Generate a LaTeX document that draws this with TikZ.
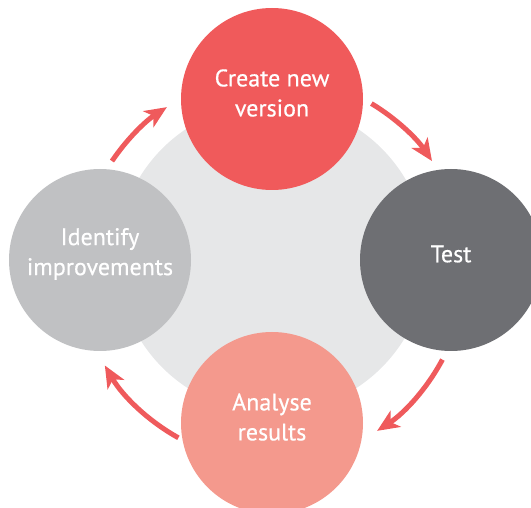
\documentclass[tikz,border=0pt]{standalone}
\usepackage{fontspec}
\setmainfont[FakeBold=0.5]{PT Sans}
\usetikzlibrary{arrows.meta,calc}
\definecolor{createred}{HTML}{F05A5B}
\definecolor{testgrey}{HTML}{6E6F73}
\definecolor{analysepink}{HTML}{F4998D}
\definecolor{identifygrey}{HTML}{C0C1C3}
\definecolor{hubgrey}{HTML}{E6E7E8}
\definecolor{arrowred}{HTML}{EF5A5C}
\tikzset{
  stage/.style={circle,minimum size=182pt,inner sep=0pt},
  words/.style={text=white,align=center,font=\fontsize{24}{30}\selectfont},
  cyc/.style={line width=5pt,draw=arrowred,
    -{Stealth[length=22pt,width=19pt,inset=6pt]}}
}

\begin{document}
\begin{tikzpicture}[x=1pt,y=1pt]
  \useasboundingbox (0,0) rectangle (531,507);
  \clip (0,0) rectangle (531,507);
   \coordinate (Hub) at (272,249);
   \coordinate (Ring) at (272,238);
  \fill[hubgrey] (Hub) circle (155);
  % the four stages, text sits a little above the middle
  \node[stage,fill=createred] (create) at (272,408) {};
  \node[stage,fill=testgrey] (test) at (451,247) {};
  \node[stage,fill=analysepink] (analyse) at (272,84) {};
  \node[stage,fill=identifygrey] (identify) at (100,247) {};
  \node[words] (createtext) at ([yshift=6pt]create) {Create new\\version};
  \node[words] (testtext) at ([yshift=6pt]test) {Test};
  \node[words] (analysetext) at ([yshift=6pt]analyse) {Analyse\\results};
  \node[words] (identifytext) at ([yshift=6pt]identify) {Identify\\improvements};
  % arrows round the ring
  \foreach \s/\e [count=\i] in {59/34,-28/-57,-119/-150,146/123}{%
    \coordinate (arc\i) at ($(Ring)+(\s:193)$);
    \draw[cyc] (arc\i) arc[start angle=\s,end angle=\e,radius=193];
  }
\end{tikzpicture}
\end{document}
